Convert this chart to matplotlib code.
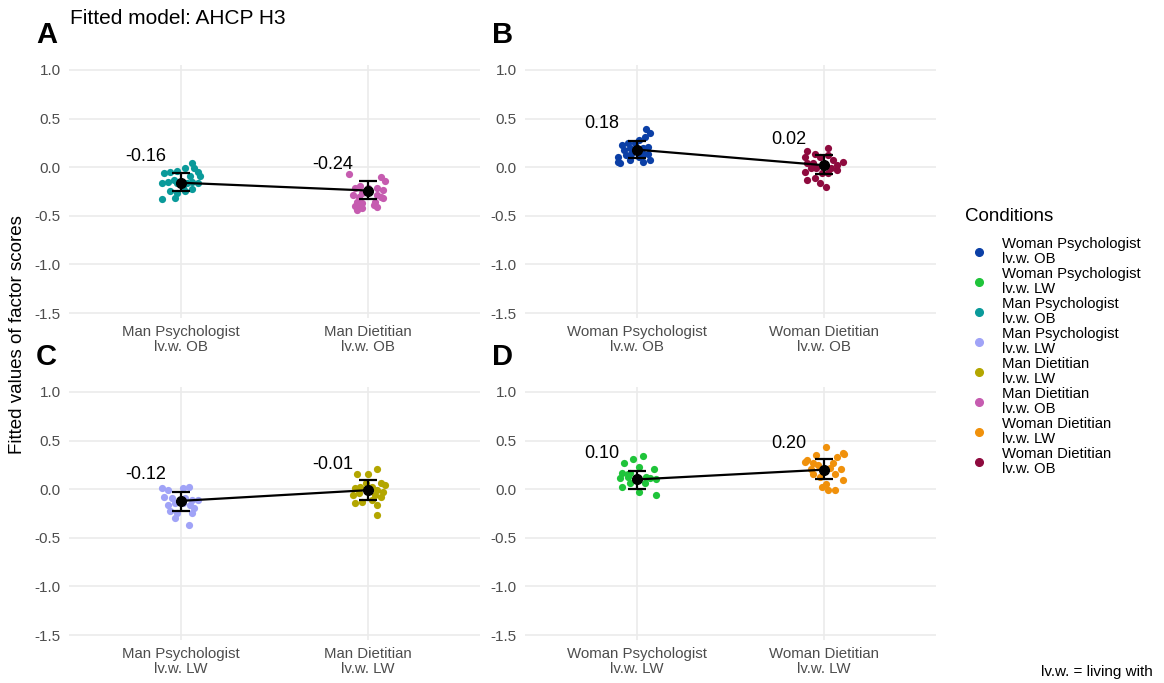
import numpy as np
import matplotlib
matplotlib.use('Agg')
import matplotlib.pyplot as plt
from matplotlib.lines import Line2D

plt.rcParams['font.family'] = ['Liberation Sans', 'DejaVu Sans']

# ---- data ----
conditions = ['Woman Psychologist\nlv.w. OB', 'Woman Psychologist\nlv.w. LW',
              'Man Psychologist\nlv.w. OB', 'Man Psychologist\nlv.w. LW',
              'Man Dietitian\nlv.w. LW', 'Man Dietitian\nlv.w. OB',
              'Woman Dietitian\nlv.w. LW', 'Woman Dietitian\nlv.w. OB']
cond_colors = ['#0B3FA6', '#1FC43A', '#0A9A9A', '#A0A3F7',
               '#B3A600', '#C65CB0', '#F0910B', '#8E0A3E']

# individual fitted scores (y) and horizontal jitter (dx) per condition
man_psy_ob_y = [-0.06, -0.05, -0.04, -0.01, 0.04, -0.01, -0.05, -0.16, -0.15, -0.13, -0.16, -0.21,
                -0.16, -0.15, -0.16, -0.24, -0.27, -0.24, -0.22, -0.33, -0.32, -0.09, -0.09]
man_psy_ob_dx = [-0.09, -0.06, -0.02, 0.02, 0.06, 0.07, 0.09, -0.10, -0.07, -0.04, -0.02, 0.01,
                 0.03, 0.06, 0.09, -0.06, -0.02, 0.02, 0.06, -0.10, -0.03, 0.10, 0.05]
man_diet_ob_y = [-0.07, -0.10, -0.14, -0.21, -0.19, -0.21, -0.23, -0.29, -0.31, -0.27, -0.29, -0.31,
                 -0.36, -0.37, -0.36, -0.32, -0.41, -0.42, -0.41, -0.44, -0.40, -0.39, -0.21]
man_diet_ob_dx = [-0.10, 0.07, 0.09, -0.07, -0.04, 0.05, 0.08, -0.08, -0.05, -0.03, 0.05, 0.07,
                  -0.06, -0.03, 0.04, 0.08, -0.05, -0.03, 0.05, -0.06, -0.07, 0.03, 0.0]
wom_psy_ob_y = [0.39, 0.35, 0.31, 0.28, 0.23, 0.25, 0.18, 0.20, 0.20, 0.21, 0.10, 0.12, 0.14,
                0.14, 0.14, 0.04, 0.07, 0.05, 0.07, 0.05, 0.10, 0.25]
wom_psy_ob_dx = [0.05, 0.07, 0.04, 0.01, -0.08, -0.05, -0.07, -0.04, 0.03, 0.06, -0.10, -0.06, -0.03,
                 0.03, 0.06, -0.09, -0.04, 0.03, 0.07, -0.10, 0.01, -0.01]
wom_diet_ob_y = [0.20, 0.17, 0.14, 0.10, 0.10, 0.07, 0.05, 0.04, 0.04, 0.02, -0.01, -0.01, -0.01,
                 -0.03, -0.05, -0.06, -0.06, -0.13, -0.16, -0.20, -0.11, 0.12]
wom_diet_ob_dx = [0.02, -0.09, -0.05, -0.10, -0.02, 0.05, 0.10, -0.09, -0.06, 0.07, -0.07, -0.04, 0.04,
                  0.07, -0.10, -0.01, 0.02, -0.09, -0.02, 0.01, -0.05, 0.02]
man_psy_lw_y = [0.01, -0.01, 0.01, 0.02, -0.08, -0.09, -0.09, -0.11, -0.16, -0.14, -0.16, -0.19,
                -0.22, -0.24, -0.30, -0.37, -0.24, -0.11, -0.14]
man_psy_lw_dx = [-0.10, -0.07, 0.01, 0.04, -0.09, -0.05, 0.02, 0.06, -0.07, -0.03, 0.05, 0.07,
                 -0.06, 0.06, -0.03, 0.04, -0.02, 0.09, 0.01]
man_diet_lw_y = [0.16, 0.16, 0.21, 0.04, 0.06, 0.01, 0.02, 0.02, -0.01, -0.03, -0.06, -0.04, -0.06,
                 -0.08, -0.14, -0.13, -0.16, -0.27, 0.06, -0.11]
man_diet_lw_dx = [-0.06, 0.0, 0.05, 0.09, 0.07, -0.07, -0.04, 0.02, 0.05, 0.08, -0.08, -0.05, 0.04,
                  0.07, -0.07, -0.03, 0.05, 0.05, -0.01, 0.02]
wom_psy_lw_y = [0.34, 0.31, 0.27, 0.17, 0.17, 0.23, 0.21, 0.11, 0.12, 0.12, 0.10, 0.02, 0.06,
                0.06, -0.03, -0.06, 0.11, 0.16]
wom_psy_lw_dx = [0.03, -0.02, -0.07, -0.08, -0.04, 0.01, 0.09, -0.09, -0.05, 0.05, 0.10, -0.08, -0.04,
                 0.04, 0.01, 0.10, 0.07, -0.05]
wom_diet_lw_y = [0.43, 0.35, 0.37, 0.33, 0.30, 0.27, 0.27, 0.21, 0.21, 0.16, 0.16, 0.12, 0.09,
                 0.02, -0.01, -0.01, 0.28, 0.36, 0.22, 0.25, 0.05]
wom_diet_lw_dx = [0.01, -0.04, 0.10, 0.07, -0.09, -0.06, 0.05, -0.07, 0.09, -0.06, 0.06, -0.02, 0.10,
                  -0.01, 0.06, 0.02, -0.10, 0.11, 0.03, -0.03, 0.01]

# model means and interval bounds per panel (left, right)
means_A = [-0.16, -0.24]
lo_A = [-0.25, -0.33]
hi_A = [-0.06, -0.14]
means_B = [0.18, 0.02]
lo_B = [0.09, -0.07]
hi_B = [0.27, 0.12]
means_C = [-0.12, -0.01]
lo_C = [-0.22, -0.11]
hi_C = [-0.03, 0.09]
means_D = [0.10, 0.20]
lo_D = [0.00, 0.10]
hi_D = [0.19, 0.31]

labels_A = ['Man Psychologist\nlv.w. OB', 'Man Dietitian\nlv.w. OB']
labels_B = ['Woman Psychologist\nlv.w. OB', 'Woman Dietitian\nlv.w. OB']
labels_C = ['Man Psychologist\nlv.w. LW', 'Man Dietitian\nlv.w. LW']
labels_D = ['Woman Psychologist\nlv.w. LW', 'Woman Dietitian\nlv.w. LW']

panels = [
    ('A', labels_A, [(man_psy_ob_dx, man_psy_ob_y, 2), (man_diet_ob_dx, man_diet_ob_y, 5)], means_A, lo_A, hi_A),
    ('B', labels_B, [(wom_psy_ob_dx, wom_psy_ob_y, 0), (wom_diet_ob_dx, wom_diet_ob_y, 7)], means_B, lo_B, hi_B),
    ('C', labels_C, [(man_psy_lw_dx, man_psy_lw_y, 3), (man_diet_lw_dx, man_diet_lw_y, 4)], means_C, lo_C, hi_C),
    ('D', labels_D, [(wom_psy_lw_dx, wom_psy_lw_y, 1), (wom_diet_lw_dx, wom_diet_lw_y, 6)], means_D, lo_D, hi_D),
]

W, H = 1164, 683
fig = plt.figure(figsize=(W / 100, H / 100), dpi=100)

# axes rectangles in pixels: left, top, width, height
rects = {'A': (69, 65, 411, 253), 'B': (525, 65, 411, 253),
         'C': (69, 387, 411, 253), 'D': (525, 387, 411, 253)}

for letter, labels, groups, means, lo, hi in panels:
    l, t, w, h = rects[letter]
    ax = fig.add_axes([l / W, 1 - (t + h) / H, w / W, h / H])
    xs = np.arange(1, 3)
    for i, (dx, yv, ci) in enumerate(groups):
        ax.scatter(xs[i] + np.array(dx), yv, s=27, color=cond_colors[ci],
                   linewidths=0, zorder=2)
    means = np.array(means)
    ax.plot(xs, means, color='black', lw=1.6, zorder=3)
    ax.errorbar(xs, means, yerr=[means - np.array(lo), np.array(hi) - means],
                fmt='o', color='black', ms=7, elinewidth=1.6, capsize=6.5,
                capthick=1.6, zorder=4)
    for x, m in zip(xs, means):
        ax.annotate('%.2f' % m, (x, m), xytext=(-35, 26), textcoords='offset pixels',
                    ha='center', va='center', fontsize=13, color='black')
    ax.set_xlim(0.4, 2.6)
    ax.set_ylim(-1.55, 1.05)
    ax.set_yticks([-1.5, -1.0, -0.5, 0.0, 0.5, 1.0])
    ax.set_yticklabels(['-1.5', '-1.0', '-0.5', '0.0', '0.5', '1.0'])
    ax.set_xticks(xs)
    ax.set_xticklabels(labels, linespacing=1.1)
    ax.tick_params(axis='y', length=0, labelsize=11, labelcolor='#4D4D4D', pad=6)
    ax.tick_params(axis='x', length=0, labelsize=10.8, labelcolor='#4D4D4D', pad=5)
    ax.grid(True, color='#EBEBEB', lw=1.2)
    ax.set_axisbelow(True)
    for s in ax.spines.values():
        s.set_visible(False)
    fig.text((l - 33) / W, 1 - (t - 30) / H, letter, fontsize=21, fontweight='bold',
             ha='left', va='center')

fig.text(70 / W, 1 - 18 / H, 'Fitted model: AHCP H3', fontsize=15, ha='left', va='center')
fig.text(18 / W, 1 - 335 / H, 'Fitted values of factor scores', fontsize=13.5,
         rotation=90, ha='center', va='center')
fig.text(1153 / W, 1 - 672 / H, 'lv.w. = living with', fontsize=11, ha='right', va='center')

# legend: title placed separately for the wider gap seen in the reference
fig.text(965 / W, 1 - 217 / H, 'Conditions', fontsize=13.5, ha='left', va='center')
handles = [Line2D([], [], marker='o', ls='', color=c, ms=5.5) for c in cond_colors]
leg = fig.legend(handles, conditions, loc='upper left', bbox_to_anchor=(956 / W, 1 - 225 / H),
                 frameon=False, fontsize=10.7, labelspacing=0.08,
                 handletextpad=0.8, handlelength=1.5, borderpad=0.3)
for txt in leg.get_texts():
    txt.set_linespacing(1.08)

fig.savefig('out.png', dpi=100)
